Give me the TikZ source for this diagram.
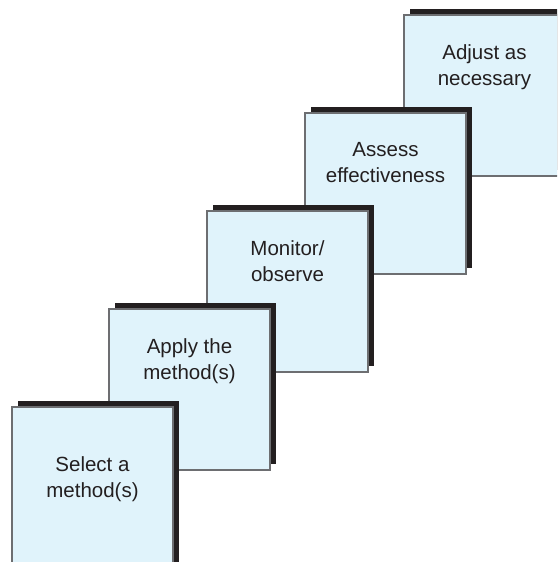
\documentclass[tikz,border=0pt]{standalone}
\usepackage{fontspec}
\setmainfont{Liberation Sans}
\usetikzlibrary{shadows}
\definecolor{boxfill}{HTML}{E0F3FB}
\definecolor{boxline}{HTML}{6D6E71}
\definecolor{shadowc}{HTML}{231F20}
\tikzset{
  stepbox/.style={fill=boxfill, draw=boxline, line width=1.5pt,
    minimum width=161pt, minimum height=161pt, inner sep=0pt, outer sep=0pt,
    anchor=north west,
    general shadow={fill=shadowc, shadow xshift=5.5pt, shadow yshift=6pt}},
  steplabel/.style={font=\fontsize{20.5}{25.5}\selectfont, text=shadowc,
    align=center, anchor=north, inner sep=0pt}
}
\begin{document}
\begin{tikzpicture}[x=1pt,y=-1pt]
  \path[use as bounding box] (0,0) rectangle (557,562);
  \clip (0,0) rectangle (557,562);
  \node[stepbox] (b5) at (404,15) {};
  \node[steplabel] (t5) at ([yshift=-29.5pt]b5.north) {Adjust as\\necessary};
  \node[stepbox] (b4) at (305,113) {};
  \node[steplabel] (t4) at ([yshift=-29.5pt]b4.north) {Assess\\effectiveness};
  \node[stepbox] (b3) at (207,211) {};
  \node[steplabel] (t3) at ([yshift=-29.5pt]b3.north) {Monitor/\\observe};
  \node[stepbox] (b2) at (109,309) {};
  \node[steplabel] (t2) at ([yshift=-29.5pt]b2.north) {Apply the\\method(s)};
  \node[stepbox] (b1) at (12,407) {};
  \node[steplabel] (t1) at ([yshift=-49.5pt]b1.north) {Select a\\method(s)};
\end{tikzpicture}
\end{document}
